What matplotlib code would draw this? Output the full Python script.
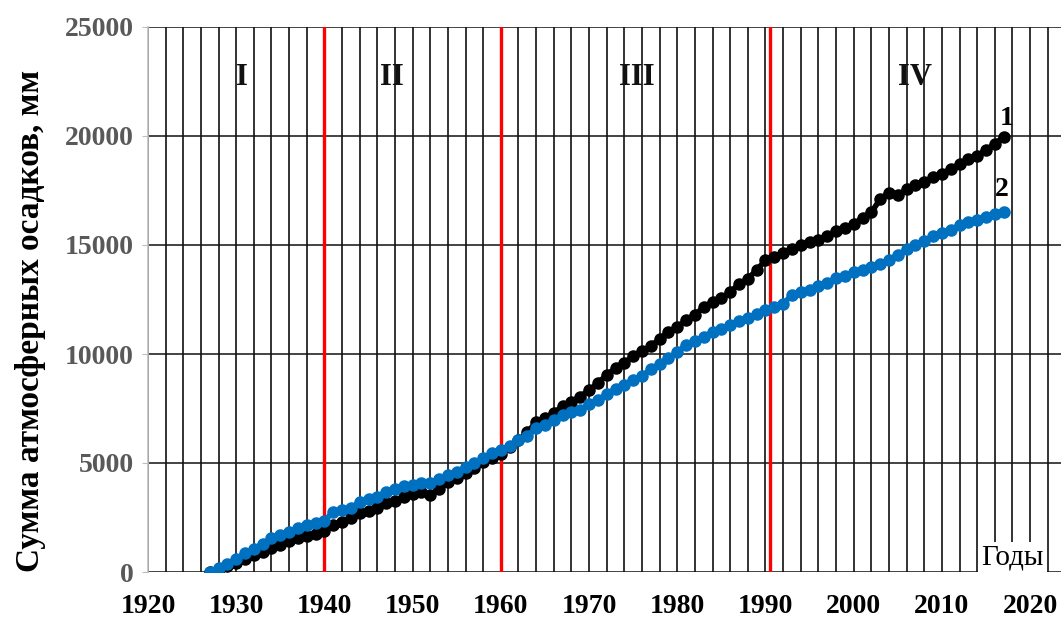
import numpy as np
import matplotlib
matplotlib.use("Agg")
import matplotlib.pyplot as plt
from matplotlib.ticker import MultipleLocator

# Годы наблюдений
years = list(range(1927, 2018))

# 1 - суммарные осадки (накопленные), мм
sum_1 = [
    0, 120, 260, 420, 580, 760, 930, 1100, 1250, 1400,
    1560, 1650, 1730, 1900, 2150, 2300, 2480, 2700, 2820, 2950,
    3150, 3250, 3430, 3560, 3680, 3550, 3800, 4120, 4300, 4520,
    4750, 5050, 5250, 5400, 5750, 6050, 6400, 6880, 7050, 7300,
    7600, 7800, 8050, 8350, 8650, 9050, 9350, 9600, 9900, 10150,
    10350, 10700, 11000, 11250, 11550, 11800, 12150, 12400, 12550, 12850,
    13200, 13450, 13850, 14300, 14450, 14650, 14800, 15000, 15150, 15250,
    15400, 15650, 15800, 15950, 16250, 16500, 17100, 17400, 17300, 17550,
    17750, 17900, 18100, 18250, 18500, 18700, 18950, 19100, 19350, 19650,
    19950,
]

# 2 - накопленные осадки по второй станции, мм
sum_2 = [
    0, 180, 370, 600, 850, 1050, 1300, 1550, 1700, 1850,
    2000, 2150, 2250, 2350, 2750, 2850, 2950, 3200, 3350, 3450,
    3650, 3800, 3950, 4000, 4100, 4080, 4250, 4430, 4600, 4800,
    4980, 5250, 5450, 5600, 5800, 6050, 6250, 6600, 6750, 6950,
    7200, 7350, 7450, 7700, 7900, 8150, 8400, 8600, 8800, 9000,
    9300, 9550, 9800, 10100, 10400, 10600, 10800, 11000, 11150, 11350,
    11500, 11650, 11850, 12000, 12150, 12300, 12700, 12850, 12950, 13100,
    13250, 13500, 13600, 13750, 13850, 13980, 14150, 14300, 14550, 14800,
    15000, 15200, 15400, 15550, 15700, 15900, 16050, 16150, 16300, 16400,
    16500,
]

# границы периодов и их подписи
borders = [1940, 1960, 1990.5]
periods = ["I", "II", "III", "IV"]
period_x = [1930.7, 1947.6, 1975.4, 2007.0]

plt.rcParams["font.family"] = ["Liberation Serif", "DejaVu Serif"]

fig = plt.figure(figsize=(10.61, 6.19), dpi=100)
ax = fig.add_axes([148 / 1061, 1 - 572 / 619, 1 - 148 / 1061, (572 - 27) / 619])

ax.set_xlim(1920, 2023.5)
ax.set_ylim(0, 25000)
ax.xaxis.set_major_locator(MultipleLocator(10))
ax.xaxis.set_minor_locator(MultipleLocator(2))
ax.yaxis.set_major_locator(MultipleLocator(5000))

# сетка: вертикальные линии через 2 года, горизонтальные через 5000 мм
ax.grid(True, which="minor", axis="x", color="#333333", lw=1.4)
ax.grid(True, which="major", axis="x", color="#333333", lw=1.4)
ax.grid(True, which="major", axis="y", color="#111111", lw=1.1)
ax.set_axisbelow(True)

for b in borders:
    ax.axvline(b, color="#ff0000", lw=2.4, zorder=2)

ax.plot(years, sum_1, color="black", marker="o", ms=8, lw=4, zorder=3)
ax.plot(years, sum_2, color="#0070c0", marker="o", ms=8, lw=4, zorder=4)

for name, xp in zip(periods, period_x):
    ax.text(xp, 22700, name, ha="center", va="center", fontsize=22,
            fontweight="bold", color="#111111")

ax.text(years[-1] + 0.3, sum_1[-1] + 850, "1", ha="center", va="center",
        fontsize=20, fontweight="bold")
ax.text(years[-1] - 0.2, sum_2[-1] + 1050, "2", ha="center", va="center",
        fontsize=20, fontweight="bold")

ax.text(2018.0, 60, "Годы", ha="center", va="bottom", fontsize=21,
        bbox=dict(facecolor="white", edgecolor="none", pad=2), zorder=5)

for side in ["top", "right", "bottom"]:
    ax.spines[side].set_visible(False)
ax.spines["left"].set_color("#bfbfbf")
ax.spines["left"].set_linewidth(1.2)

ax.tick_params(axis="x", which="both", length=0, pad=16, labelsize=20)
ax.tick_params(axis="y", length=4, color="#bfbfbf", pad=6, labelsize=20,
               labelcolor="#595959")
for lbl in ax.get_xticklabels() + ax.get_yticklabels():
    lbl.set_fontweight("bold")

ax.set_ylabel("Сумма атмосферных осадков, мм", fontsize=24, fontweight="bold")
ax.yaxis.set_label_coords((46 - 148) / 913, 0.46)

fig.savefig("out.png", dpi=100)
